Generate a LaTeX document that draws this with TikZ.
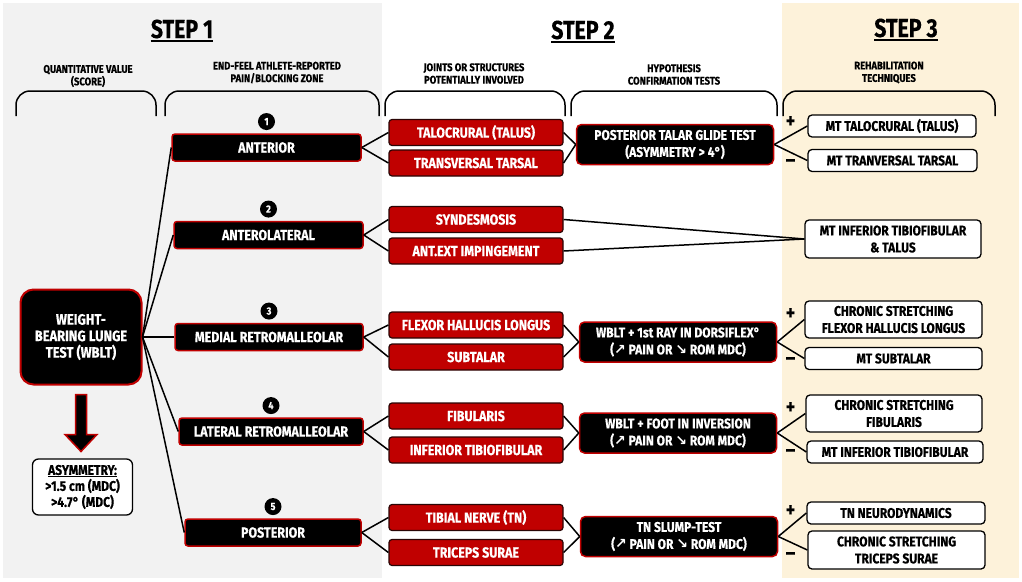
\documentclass[tikz,border=0pt]{standalone}
\usepackage{fontspec}
\setmainfont{Fira Sans}[FakeStretch=0.86, BoldFeatures={FakeBold=0.4}]
\newfontfamily\titlefont{Fira Sans}[FakeStretch=0.82, BoldFeatures={FakeBold=0.4}]
\newfontfamily\arrowfont{DejaVu Sans}
\usetikzlibrary{positioning}
\usetikzlibrary{calc}
\definecolor{stepred}{HTML}{C00000}
\definecolor{darkrim}{HTML}{2A0505}
\definecolor{panelgray}{HTML}{F2F2F2}
\definecolor{panelcream}{HTML}{FDF2DA}
\newcommand{\arrup}{{\arrowfont\bfseries ↗}}
\newcommand{\arrdn}{{\arrowfont\bfseries ↘}}

\begin{document}
\begin{tikzpicture}[x=1pt, y=-1pt,
  steptitle/.style={inner sep=0pt, font=\titlefont\fontsize{26}{28}\selectfont\bfseries},
  colhead/.style={align=center, inner sep=0pt, font=\fontsize{11}{12.5}\selectfont\bfseries},
  zone/.style={draw=stepred, fill=black, text=white, line width=1.5pt, rounded corners=3pt, minimum height=27pt, inner sep=0pt, font=\fontsize{14.5}{16}\selectfont\bfseries},
  struct/.style={draw=darkrim, fill=stepred, text=white, line width=1.2pt, rounded corners=3pt, minimum width=174pt, minimum height=26pt, inner sep=0pt, font=\fontsize{14.5}{16}\selectfont\bfseries},
  test/.style={draw=stepred, fill=black, text=white, line width=1.5pt, rounded corners=5pt, minimum width=197pt, minimum height=40pt, inner sep=0pt, align=center, font=\fontsize{14}{17}\selectfont\bfseries},
  rehab/.style={draw=black, fill=white, line width=1.3pt, rounded corners=4pt, minimum height=22pt, inner sep=0pt, align=center, font=\fontsize{14}{17}\selectfont\bfseries},
  num/.style={circle, fill=black, text=white, minimum size=17pt, inner sep=0pt, font=\fontsize{10.5}{10.5}\selectfont\bfseries},
  sign/.style={inner sep=0pt, font=\fontsize{21}{21}\selectfont\bfseries},
  link/.style={line width=1.5pt}]

\useasboundingbox (0,0) rectangle (1022,581);
\fill[white] (0,0) rectangle (1022,581);
\fill[panelgray] (3,3) rectangle (382,578);
\fill[panelcream] (782,3) rectangle (1019,578);

% step titles
\node[steptitle] (st1) at (182,29) {STEP 1};
\node[steptitle] (st2) at (583,30) {STEP 2};
\node[steptitle] (st3) at (906,28) {STEP 3};
\foreach \s in {st1,st2,st3}
  \draw[line width=1.5pt] ([yshift=-3pt]\s.base west) -- ([yshift=-3pt]\s.base east);

% column headers and braces
\node[colhead] (h1) at (88,76) {QUANTITATIVE VALUE\\(SCORE)};
\node[colhead] (h2) at (277,72.5) {END-FEEL ATHLETE-REPORTED\\PAIN/BLOCKING ZONE};
\node[colhead] (h3) at (474,73.5) {JOINTS OR STRUCTURES\\POTENTIALLY INVOLVED};
\node[colhead] (h4) at (674,74.5) {HYPOTHESIS\\CONFIRMATION TESTS};
\node[colhead] (h5) at (889,72.5) {REHABILITATION\\TECHNIQUES};
\foreach \l/\r in {16/156,165/379,385/565,571/777,783/995}
  \draw[line width=1.5pt, rounded corners=14pt] (\l,116) -- (\l,91) -- (\r,91) -- (\r,116);

% score
\node[draw=stepred, fill=black, text=white, line width=2pt, rounded corners=13pt, minimum width=121pt, minimum height=95pt, inner sep=0pt, align=center, font=\fontsize{15}{16.5}\selectfont\bfseries] (wblt) at (81,337) {WEIGHT-\\BEARING LUNGE\\TEST (WBLT)};
\begin{scope}[shift={(wblt.south)}]
  \filldraw[fill=black, draw=stepred, line width=1.5pt] (-5.5,9) -- (5.5,9) -- (5.5,49) -- (16,49) -- (0,66) -- (-16,49) -- (-5.5,49) -- cycle;
\end{scope}
\node[rehab, minimum width=100pt, minimum height=56pt, rounded corners=6pt, font=\fontsize{14}{16}\selectfont\bfseries] (asym) at (82.5,487) {\underline{ASYMMETRY:}\\>1.5 cm (MDC)\\>4.7° (MDC)};

% zones
\node[zone, minimum width=189pt] (z1) at (266.5,147.5) {ANTERIOR};
\node[zone, minimum width=189pt] (z2) at (268.5,235) {ANTEROLATERAL};
\node[zone, minimum width=188pt] (z3) at (269,337) {MEDIAL RETROMALLEOLAR};
\node[zone, minimum width=184pt] (z4) at (271,431.5) {LATERAL RETROMALLEOLAR};
\node[zone, minimum width=176pt] (z5) at (273,532.5) {POSTERIOR};
\node[num, above=3pt of z1] (n1) {1};
\node[num, above=3pt of z2] (n2) {2};
\node[num, above=3pt of z3] (n3) {3};
\node[num, above=3pt of z4] (n4) {4};
\node[num, above=3pt of z5] (n5) {5};

% structures
\node[struct] (s1a) at (476,132.5) {TALOCRURAL (TALUS)};
\node[struct] (s1b) at (476,163) {TRANSVERSAL TARSAL};
\node[struct] (s2a) at (476,219.5) {SYNDESMOSIS};
\node[struct] (s2b) at (476,251) {ANT.EXT IMPINGEMENT};
\node[struct] (s3a) at (476,325) {FLEXOR HALLUCIS LONGUS};
\node[struct] (s3b) at (476,357) {SUBTALAR};
\node[struct] (s4a) at (476,416) {FIBULARIS};
\node[struct] (s4b) at (476,450) {INFERIOR TIBIOFIBULAR};
\node[struct] (s5a) at (476,517.5) {TIBIAL NERVE (TN)};
\node[struct] (s5b) at (476,552.5) {TRICEPS SURAE};

% tests
\node[test] (t1) at (675,144.5) {POSTERIOR TALAR GLIDE TEST\\(ASYMMETRY > 4°)};
\node[test] (t3) at (678,342) {WBLT + 1st RAY IN DORSIFLEX°\\(\arrup{} PAIN OR \arrdn{} ROM MDC)};
\node[test] (t4) at (678,433) {WBLT + FOOT IN INVERSION\\(\arrup{} PAIN OR \arrdn{} ROM MDC)};
\node[test] (t5) at (679,536.5) {TN SLUMP-TEST\\(\arrup{} PAIN OR \arrdn{} ROM MDC)};

% rehabilitation
\node[rehab, minimum width=168pt] (r1a) at (892,126) {MT TALOCRURAL (TALUS)};
\node[rehab, minimum width=169pt] (r1b) at (892.5,160.5) {MT TRANVERSAL TARSAL};
\node[rehab, minimum width=176pt, minimum height=38pt] (r2) at (893,239) {MT INFERIOR TIBIOFIBULAR\\\& TALUS};
\node[rehab, minimum width=177pt, minimum height=37pt] (r3a) at (893.5,319.5) {CHRONIC STRETCHING\\FLEXOR HALLUCIS LONGUS};
\node[rehab, minimum width=177pt] (r3b) at (893.5,358.5) {MT SUBTALAR};
\node[rehab, minimum width=176pt, minimum height=37pt] (r4a) at (894,413.5) {CHRONIC STRETCHING\\FIBULARIS};
\node[rehab, minimum width=176pt] (r4b) at (895,452) {MT INFERIOR TIBIOFIBULAR};
\node[rehab, minimum width=178pt] (r5a) at (896,513) {TN NEURODYNAMICS};
\node[rehab, minimum width=177pt, minimum height=38pt] (r5b) at (896.5,550) {CHRONIC STRETCHING\\TRICEPS SURAE};

% signs
\foreach \p/\m/\i in {122/163/1,314/361/3,408/453/4,511/556/5} {
  \node[sign] (plus\i) at (790.5,\p) {+};
  \node[sign] (minus\i) at (790.5,\m) {–};
}

% connectors
\foreach \z in {z1,z2,z3,z4,z5}
  \draw[link] (wblt.east) -- (\z.west);
\foreach \z/\a/\b in {z1/s1a/s1b,z2/s2a/s2b,z3/s3a/s3b,z4/s4a/s4b,z5/s5a/s5b} {
  \draw[link] (\z.east) -- (\a.west);
  \draw[link] (\z.east) -- (\b.west);
}
\foreach \a/\b/\t in {s1a/s1b/t1,s3a/s3b/t3,s4a/s4b/t4,s5a/s5b/t5,s2a/s2b/r2} {
  \draw[link] (\a.east) -- (\t.west);
  \draw[link] (\b.east) -- (\t.west);
}
\foreach \t/\a/\b in {t1/r1a/r1b,t3/r3a/r3b,t4/r4a/r4b,t5/r5a/r5b} {
  \draw[link] (\t.east) -- (\a.west);
  \draw[link] (\t.east) -- (\b.west);
}
\end{tikzpicture}
\end{document}
